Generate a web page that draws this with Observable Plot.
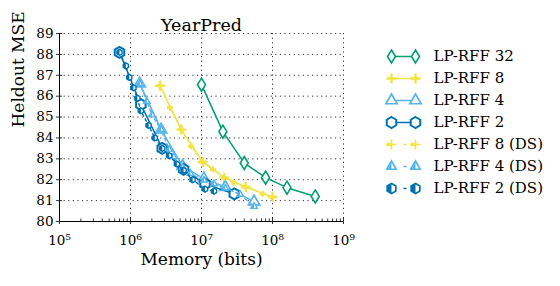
<!DOCTYPE html>
<html><head><meta charset="utf-8">
<script src="https://cdn.jsdelivr.net/npm/d3@7"></script>
<script src="https://cdn.jsdelivr.net/npm/@observablehq/plot@0.6"></script>
<style>
body{margin:0;background:#fff;}
#wrap{position:relative;width:560px;height:286px;font-family:"DejaVu Serif",serif;}
#legend{position:absolute;left:370px;top:35px;}
</style></head><body><div id="wrap"><div id="chart"></div><div id="legend"></div></div>
<script>
// ---- data ----
const title = "YearPred";
const xLabel = "Memory (bits)";
const yLabel = "Heldout MSE";
const xTicks = [1e5, 1e6, 1e7, 1e8, 1e9];
const yTicks = [80, 81, 82, 83, 84, 85, 86, 87, 88, 89];
const seriesNames = ["LP-RFF 32", "LP-RFF 8", "LP-RFF 4", "LP-RFF 2", "LP-RFF 8 (DS)", "LP-RFF 4 (DS)", "LP-RFF 2 (DS)"];

const mem32 = [1e7, 2e7, 4e7, 8e7, 1.6e8, 4e8];
const mse32 = [86.55, 84.3, 82.8, 82.1, 81.62, 81.2];

const mem8 = [2.6e6, 5.2e6, 1.04e7, 2.1e7, 4.2e7, 1.0e8];
const mse8 = [86.5, 84.4, 82.85, 82.1, 81.65, 81.18];

const mem4 = [1.35e6, 2.7e6, 5.4e6, 1.08e7, 2.16e7, 5.5e7];
const mse4 = [86.6, 84.4, 82.65, 82.05, 81.65, 80.95];

const mem2 = [7e5, 1.4e6, 2.8e6, 5.6e6, 1.12e7, 2.9e7];
const mse2 = [88.1, 85.6, 83.5, 82.5, 81.8, 81.32];

const mem8ds = [2.6e6, 3.6e6, 5.2e6, 7.2e6, 1.04e7, 1.45e7, 2.1e7, 2.9e7, 4.2e7, 7.3e7, 1.0e8];
const mse8ds = [86.5, 85.45, 84.4, 83.6, 82.85, 82.5, 82.1, 81.85, 81.65, 81.33, 81.15];

const mem4ds = [1.35e6, 1.7e6, 2.0e6, 2.7e6, 3.5e6, 4.0e6, 5.4e6, 7.0e6, 1.08e7, 1.5e7, 2.16e7, 3.5e7, 5.5e7];
const mse4ds = [86.6, 85.75, 85.1, 84.4, 83.45, 83.1, 82.6, 82.3, 81.98, 81.8, 81.6, 81.3, 80.72];

const mem2ds = [7e5, 8.6e5, 9.6e5, 1.1e6, 1.25e6, 1.4e6, 1.8e6, 2.2e6, 2.8e6, 3.5e6, 4.5e6, 5.6e6, 7.5e6, 1.12e7, 1.5e7];
const mse2ds = [88.1, 87.45, 86.9, 86.4, 85.9, 85.3, 84.6, 84.0, 83.5, 83.15, 82.75, 82.45, 82.0, 81.55, 81.45];

// ---- styles ----
const colors = ["#009E73", "#F0E442", "#56B4E9", "#0072B2", "#F0E442", "#56B4E9", "#0072B2"];

function poly(ctx, pts) { ctx.moveTo(pts[0][0], pts[0][1]); for (let i = 1; i < pts.length; i++) ctx.lineTo(pts[i][0], pts[i][1]); ctx.closePath(); }
const rad = s => Math.sqrt(s / Math.PI);
const hexagon = {draw(ctx, s) { const r = rad(s); poly(ctx, d3.range(6).map(i => [r * Math.cos(Math.PI / 3 * i - Math.PI / 2), r * Math.sin(Math.PI / 3 * i - Math.PI / 2)])); }};
const hexHalf = {draw(ctx, s) { const r = rad(s); poly(ctx, [[0, -r], [-0.866 * r, -0.5 * r], [-0.866 * r, 0.5 * r], [0, r]]); }};
const diamond = {draw(ctx, s) { const r = rad(s); poly(ctx, [[0, -1.3 * r], [0.8 * r, 0], [0, 1.3 * r], [-0.8 * r, 0]]); }};
const triangle = {draw(ctx, s) { const r = rad(s); poly(ctx, [[0, -r], [0.866 * r, 0.5 * r], [-0.866 * r, 0.5 * r]]); }};
const triHalf = {draw(ctx, s) { const r = rad(s); poly(ctx, [[0, -r], [-0.866 * r, 0.5 * r], [0, 0.5 * r]]); }};
const plus = {draw(ctx, s) { const r = rad(s); ctx.moveTo(-r, 0); ctx.lineTo(r, 0); ctx.moveTo(0, -r); ctx.lineTo(0, r); }};
const plusHalf = {draw(ctx, s) { const r = rad(s); ctx.moveTo(-r, -1.6); ctx.lineTo(0, -1.6); ctx.lineTo(0, 1.6); ctx.lineTo(-r, 1.6); ctx.closePath(); }};

const series = [
  {name: seriesNames[0], mem: mem32, mse: mse32, sym: diamond, r: 5, lr: 5, sw: 1.6},
  {name: seriesNames[1], mem: mem8, mse: mse8, sym: plus, r: 5, lr: 5, sw: 2.4},
  {name: seriesNames[2], mem: mem4, mse: mse4, sym: triangle, r: 6.5, lr: 6.5, sw: 1.7},
  {name: seriesNames[3], mem: mem2, mse: mse2, sym: hexagon, r: 5.5, lr: 5.5, sw: 2},
  {name: seriesNames[4], mem: mem8ds, mse: mse8ds, sym: plus, half: plusHalf, r: 3, lr: 5, sw: 2.2, ds: true},
  {name: seriesNames[5], mem: mem4ds, mse: mse4ds, sym: triangle, half: triHalf, r: 3.8, lr: 5.5, sw: 1.4, ds: true},
  {name: seriesNames[6], mem: mem2ds, mse: mse2ds, sym: hexagon, half: hexHalf, r: 3, lr: 5, sw: 1.4, ds: true}
];
series.forEach((s, i) => s.color = colors[i]);

const sup = "⁰¹²³⁴⁵⁶⁷⁸⁹";
const fmtPow = d => "10" + String(Math.round(Math.log10(d))).split("").map(c => sup[+c]).join("");
const minorTicks = [];
for (let e = 5; e < 9; e++) for (let m = 2; m <= 9; m++) minorTicks.push(m * 10 ** e);

const marks = [
  Plot.gridY(yTicks.slice(1), {stroke: "#333", strokeOpacity: 1, strokeWidth: 1, strokeDasharray: "1.2,3.4"}),
  Plot.gridX(xTicks.slice(1), {stroke: "#333", strokeOpacity: 1, strokeWidth: 1, strokeDasharray: "1.2,3.4"}),
  Plot.axisX(minorTicks, {tickSize: -2.5, tickFormat: () => "", strokeWidth: 0.8, label: null}),
  Plot.axisX(xTicks, {tickSize: -4, tickFormat: () => "", strokeWidth: 0.8, label: null}),
  Plot.axisX(xTicks, {tickSize: 3, tickPadding: 11, tickFormat: fmtPow, fontSize: 13.5, strokeWidth: 0.8, label: null}),
  Plot.axisY(yTicks, {tickSize: -3, tickFormat: () => "", strokeWidth: 0.8, label: null}),
  Plot.axisY(yTicks, {tickSize: 3, tickPadding: 3, fontSize: 13.5, strokeWidth: 0.8, label: null}),
  Plot.ruleY([80], {stroke: "black", strokeWidth: 1}),
  Plot.ruleX([1e5], {stroke: "black", strokeWidth: 1})
];
for (const s of series) {
  const rows = s.mem.map((m, i) => ({mem: m, mse: s.mse[i]}));
  marks.push(Plot.line(rows, {x: "mem", y: "mse", stroke: s.color, strokeWidth: s.ds ? 1.4 : 1.5, strokeDasharray: s.ds ? "2.5,3" : null}));
  marks.push(Plot.dot(rows, {x: "mem", y: "mse", symbol: s.sym, r: s.r, fill: s.sym === plus ? "none" : "white", stroke: s.color, strokeWidth: s.sw}));
  if (s.half) marks.push(Plot.dot(rows, {x: "mem", y: "mse", symbol: s.half, r: s.r, fill: s.color, stroke: "none"}));
}
marks.push(
  Plot.text([title], {frameAnchor: "top", dy: -15, fontSize: 17.5}),
  Plot.text([xLabel], {frameAnchor: "bottom", dy: 43, fontSize: 17}),
  Plot.text([yLabel], {frameAnchor: "left", dx: -41, rotate: -90, fontSize: 17})
);

const chart = Plot.plot({
  width: 560, height: 286,
  marginLeft: 59, marginRight: 217, marginTop: 33, marginBottom: 65,
  style: {fontFamily: "DejaVu Serif, serif", color: "black", background: "white", overflow: "visible"},
  x: {type: "log", domain: [1e5, 1e9], axis: null},
  y: {domain: [80, 89], axis: null},
  marks
});
document.getElementById("chart").append(chart);

// ---- legend ----
const legMarks = [];
for (const s of series) {
  const rows = [{x: 0, y: s.name}, {x: 1, y: s.name}];
  legMarks.push(Plot.line(rows, {x: "x", y: "y", stroke: s.color, strokeWidth: 1.5, strokeDasharray: s.ds ? "0,12.5,2,20" : null}));
  legMarks.push(Plot.dot(rows, {x: "x", y: "y", symbol: s.sym, r: s.lr, fill: s.sym === plus ? "none" : "white", stroke: s.color, strokeWidth: s.ds ? 1.7 : s.sw}));
  if (s.half) legMarks.push(Plot.dot(rows, {x: "x", y: "y", symbol: s.half, r: s.lr, fill: s.color, stroke: "none"}));
}
legMarks.push(Plot.text(seriesNames, {x: 1, y: d => d, dx: 18, textAnchor: "start", fontSize: 15}));
const legend = Plot.plot({
  width: 190, height: 172,
  marginLeft: 21, marginRight: 145, marginTop: 18, marginBottom: 17,
  style: {fontFamily: "DejaVu Serif, serif", color: "black", background: "transparent", overflow: "visible"},
  x: {domain: [0, 1], axis: null},
  y: {type: "point", domain: seriesNames, padding: 0, axis: null},
  marks: legMarks
});
document.getElementById("legend").append(legend);
</script></body></html>
